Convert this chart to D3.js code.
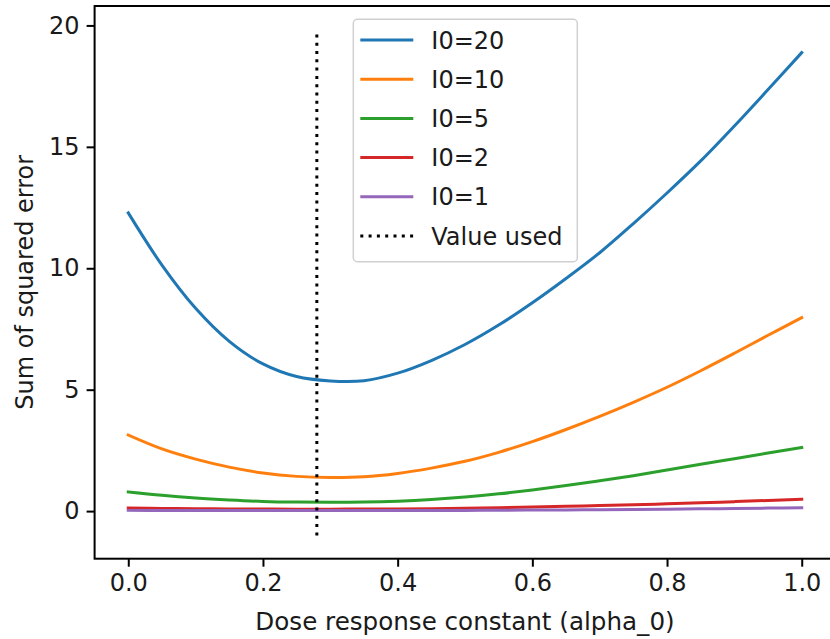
<!DOCTYPE html>
<html>
<head>
<meta charset="utf-8">
<script src="https://cdn.jsdelivr.net/npm/d3@7"></script>
<style>
  body { margin: 0; background: #fff; }
  svg { display: block; }
  text { font-family: "DejaVu Sans", sans-serif; fill: #1a1a1a; }
</style>
</head>
<body>
<script>
// alpha_0 values the curves were sampled at
var alpha = [0, 0.05, 0.1, 0.15, 0.2, 0.25, 0.3, 0.35, 0.4, 0.45, 0.5,
             0.55, 0.6, 0.65, 0.7, 0.75, 0.8, 0.85, 0.9, 0.95, 1.0];

var sse20 = [12.28, 10.13, 8.35, 6.99, 6.06, 5.54, 5.36, 5.37, 5.68, 6.2, 6.86,
             7.66, 8.58, 9.58, 10.64, 11.84, 13.1, 14.42, 15.86, 17.36, 18.88];
var sse10 = [3.13, 2.56, 2.14, 1.81, 1.57, 1.43, 1.38, 1.41, 1.55, 1.77, 2.05,
             2.42, 2.86, 3.36, 3.9, 4.48, 5.1, 5.78, 6.5, 7.24, 7.97];
var sse5 = [0.79, 0.65, 0.54, 0.46, 0.4, 0.37, 0.36, 0.37, 0.41, 0.48, 0.58,
            0.71, 0.87, 1.05, 1.25, 1.46, 1.69, 1.93, 2.16, 2.39, 2.62];
var sse2 = [0.13, 0.11, 0.1, 0.09, 0.085, 0.08, 0.08, 0.085, 0.09, 0.1, 0.12,
            0.14, 0.17, 0.2, 0.23, 0.26, 0.3, 0.34, 0.39, 0.44, 0.49];
var sse1 = [0.03, 0.028, 0.025, 0.022, 0.02, 0.02, 0.02, 0.02, 0.022, 0.025, 0.03,
            0.035, 0.042, 0.05, 0.058, 0.068, 0.08, 0.093, 0.107, 0.123, 0.14];

var seriesNames = ["I0=20", "I0=10", "I0=5", "I0=2", "I0=1"];
var seriesValues = [sse20, sse10, sse5, sse2, sse1];
var colors = ["#1f77b4", "#ff7f0e", "#2ca02c", "#d62728", "#9467bd"];

var valueUsed = 0.28;
var valueUsedSpan = [-1, 19.7];

var xTicks = [0, 0.2, 0.4, 0.6, 0.8, 1.0];
var yTicks = [0, 5, 10, 15, 20];

var margin = { top: 6, left: 94.6 },
    width = 740.8,
    height = 552.7;

var svg = d3.select("body").append("svg")
    .attr("width", 830)
    .attr("height", 639);

var g = svg.append("g")
    .attr("transform", "translate(" + margin.left + "," + margin.top + ")");

var x = d3.scaleLinear().domain([-0.05, 1.05]).range([0, width]);
var y = d3.scaleLinear().domain([-1.96, 20.8]).range([height, 0]);

var xAxis = d3.axisBottom(x).tickValues(xTicks).tickFormat(d3.format(".1f"))
    .tickSize(8).tickPadding(7);
var yAxis = d3.axisLeft(y).tickValues(yTicks).tickFormat(d3.format("d"))
    .tickSize(8).tickPadding(7);

var line = d3.line()
    .x(function (d) { return x(d[0]); })
    .y(function (d) { return y(d[1]); })
    .curve(d3.curveCatmullRom.alpha(0.5));

seriesValues.forEach(function (vals, i) {
    g.append("path")
        .datum(alpha.map(function (a, j) { return [a, vals[j]]; }))
        .attr("fill", "none")
        .attr("stroke", colors[i])
        .attr("stroke-width", 3)
        .attr("stroke-linecap", "square")
        .attr("d", line);
});

g.append("line")
    .attr("x1", x(valueUsed)).attr("x2", x(valueUsed))
    .attr("y1", y(valueUsedSpan[0])).attr("y2", y(valueUsedSpan[1]))
    .attr("stroke", "#000")
    .attr("stroke-width", 3)
    .attr("stroke-dasharray", "3,5.3");

var gx = g.append("g")
    .attr("transform", "translate(0," + height + ")")
    .call(xAxis);
var gy = g.append("g").call(yAxis);

[gx, gy].forEach(function (ax) {
    ax.select(".domain").remove();
    ax.selectAll(".tick line").attr("stroke", "#000").attr("stroke-width", 2);
    ax.selectAll(".tick text").style("font-size", "24px").attr("fill", "#1a1a1a");
});

// axes frame
g.append("rect")
    .attr("width", width).attr("height", height)
    .attr("fill", "none")
    .attr("stroke", "#000")
    .attr("stroke-width", 2);

g.append("text")
    .attr("x", width / 2)
    .attr("y", height + 71)
    .attr("text-anchor", "middle")
    .style("font-size", "24.6px")
    .text("Dose response constant (alpha_0)");

g.append("text")
    .attr("transform", "translate(" + (33 - margin.left) + "," + (height / 2) + ") rotate(-90)")
    .attr("text-anchor", "middle")
    .style("font-size", "24px")
    .text("Sum of squared error");

// legend
var legend = svg.append("g").attr("transform", "translate(353.3,19.3)");
legend.append("rect")
    .attr("width", 224).attr("height", 242.4)
    .attr("rx", 4)
    .attr("fill", "#fff").attr("fill-opacity", 0.8)
    .attr("stroke", "#d0d0d0").attr("stroke-width", 1.5);

var legendItems = seriesNames.map(function (n, i) {
    return { name: n, color: colors[i], dash: null };
});
legendItems.push({ name: "Value used", color: "#000", dash: "3,5.3" });

legendItems.forEach(function (d, i) {
    var cy = 20.7 + i * 39.2;
    legend.append("line")
        .attr("x1", 7).attr("x2", 60)
        .attr("y1", cy).attr("y2", cy)
        .attr("stroke", d.color)
        .attr("stroke-width", 3)
        .attr("stroke-dasharray", d.dash);
    legend.append("text")
        .attr("x", 78)
        .attr("y", cy)
        .attr("dy", "0.36em")
        .style("font-size", "24px")
        .text(d.name);
});
</script>
</body>
</html>
